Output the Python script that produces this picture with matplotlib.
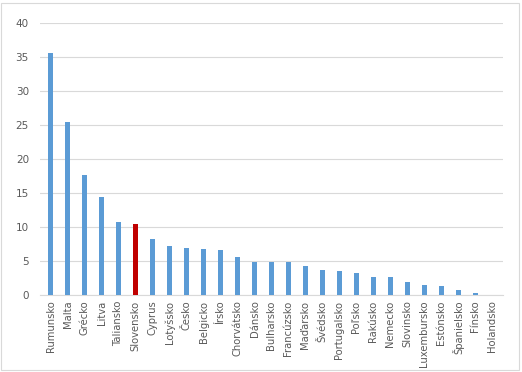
import matplotlib.pyplot as plt
from matplotlib.patches import Rectangle

countries = ["Rumunsko", "Malta", "Grécko", "Litva", "Taliansko", "Slovensko",
             "Cyprus", "Lotyšsko", "Česko", "Belgicko", "Írsko", "Chorvátsko",
             "Dánsko", "Bulharsko", "Francúzsko", "Maďarsko", "Švédsko",
             "Portugalsko", "Poľsko", "Rakúsko", "Nemecko", "Slovinsko",
             "Luxembursko", "Estónsko", "Španielsko", "Fínsko", "Holandsko"]
values = [35.6, 25.5, 17.6, 14.4, 10.7, 10.4, 8.3, 7.25, 6.9, 6.8, 6.6, 5.6,
          4.85, 4.9, 4.9, 4.3, 3.7, 3.5, 3.25, 2.65, 2.65, 1.9, 1.45, 1.3,
          0.75, 0.3, 0.0]
highlight = "Slovensko"
yticks = [0, 5, 10, 15, 20, 25, 30, 35, 40]

W, H = 522, 372
fig = plt.figure(figsize=(W / 100, H / 100), dpi=100)
ax = fig.add_axes([40 / W, (H - 295) / H, 463 / W, 272 / H])

colors = ["#C00000" if c == highlight else "#5B9BD5" for c in countries]
x = range(len(countries))
ax.bar(x, values, width=0.34, color=colors, zorder=3)

ax.set_xlim(-0.62, len(countries) - 0.38)
ax.set_ylim(0, 40)
ax.set_yticks(yticks)
ax.set_xticks(list(x))
ax.set_xticklabels(countries, rotation=90, fontsize=7.2, color="#595959")
ax.tick_params(axis="y", labelsize=7.5, labelcolor="#595959", length=0, pad=8)
ax.tick_params(axis="x", length=0, pad=4)
ax.grid(axis="y", color="#D9D9D9", linewidth=0.8, zorder=0)
for s in ["top", "right", "left"]:
    ax.spines[s].set_visible(False)
ax.spines["bottom"].set_color("#D9D9D9")

# chart border
fig.patches.append(Rectangle((1 / W, 2 / H), 518 / W, 367 / H, transform=fig.transFigure,
                             fill=False, edgecolor="#D9D9D9", linewidth=0.8))

fig.savefig("out.png", dpi=100)
